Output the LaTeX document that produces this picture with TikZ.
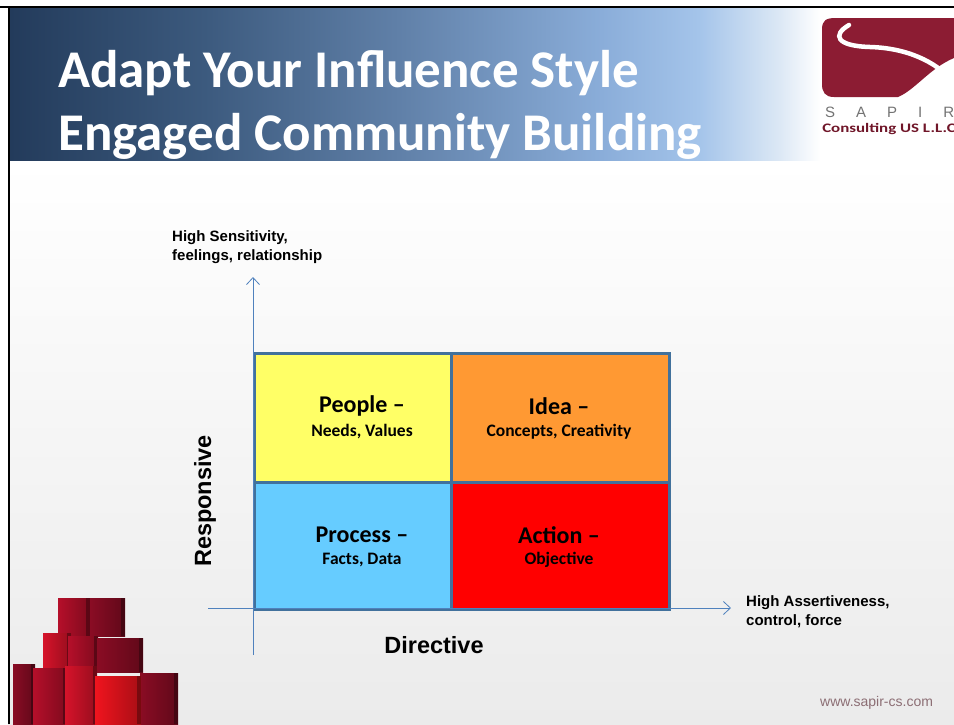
\documentclass[tikz,border=0pt]{standalone}
\usepackage{fontspec}
\setmainfont{Carlito}
\newfontfamily\arialfont{Liberation Sans}
\usetikzlibrary{arrows.meta, positioning, calc}
\definecolor{slnavy}{HTML}{233B5B}
\definecolor{sldeep}{HTML}{3C5A7E}
\definecolor{slsteel}{HTML}{6080A8}
\definecolor{slsky}{HTML}{8AADD9}
\definecolor{slpale}{HTML}{A4C4EA}
\definecolor{slmist}{HTML}{DCE8F5}
\definecolor{slframe}{HTML}{41719C}
\definecolor{slaxis}{HTML}{4F81BD}
\definecolor{slyellow}{HTML}{FFFF66}
\definecolor{slorange}{HTML}{FF9933}
\definecolor{slblue}{HTML}{66CCFF}
\definecolor{slred}{HTML}{FF0000}
\definecolor{sllogo}{HTML}{8C1C33}
\definecolor{slgray}{HTML}{EBEBEB}
\definecolor{slcubeA}{HTML}{B50F2A}
\definecolor{slcubeB}{HTML}{8A0C24}
\definecolor{slcubeC}{HTML}{D6132A}
\definecolor{slcubeD}{HTML}{F0141E}
% the visible band of a horizontal shading runs from 25bp to 75bp
\pgfdeclarehorizontalshading{bannershade}{100bp}{color(0bp)=(slnavy); color(25bp)=(slnavy);
  color(37bp)=(sldeep); color(49bp)=(slsteel); color(61.5bp)=(slsky); color(67.5bp)=(slpale);
  color(72.5bp)=(slmist); color(75bp)=(white); color(100bp)=(white)}

\begin{document}
\begin{tikzpicture}[x=1pt, y=-1pt,
  cell/.style={rectangle, draw=slframe, line width=2.5pt, fill=#1, anchor=north west,
    inner sep=0pt},
  head/.style={font=\fontsize{24}{26}\selectfont\bfseries},
  sub/.style={font=\fontsize{17.5}{20}\selectfont\bfseries},
  note/.style={font=\arialfont\fontsize{15}{19}\selectfont\bfseries, align=left, anchor=north west,
    inner sep=0pt},
  axisname/.style={font=\arialfont\fontsize{23.5}{26}\selectfont\bfseries},
  axis/.style={slaxis, line width=0.8pt, -{Straight Barb[length=7pt, width=13pt]}},
]
  \useasboundingbox (0,0) rectangle (954,724);

  % slide background and frame
  \shade[top color=white, bottom color=slgray] (8,160) rectangle (954,724);
  \fill[white] (820,8) rectangle (954,160);
  \shade[shading=bannershade] (10,8) rectangle (820,160);
  \draw[black, line width=2pt] (0,7) -- (954,7);
  \draw[black, line width=2pt] (9,7) -- (9,724);

  % title
  \node[anchor=base west, inner sep=0pt, text=white, font=\fontsize{53}{60}\selectfont\bfseries]
    (title1) at (58,87) {Adapt Your Influence Style};
  \node[anchor=base west, inner sep=0pt, text=white, font=\fontsize{53}{60}\selectfont\bfseries]
    (title2) at (58,150) {Engaged Community Building};

  % logo
  \fill[sllogo] (822,30) .. controls (822,20) and (826,18) .. (836,18) -- (954,18) -- (954,58)
    .. controls (930,68) and (915,90) .. (898,97) -- (834,97)
    .. controls (825,97) and (822,92) .. (822,84) -- cycle;
  \draw[white, line width=4.5pt, line cap=round] (849,25) .. controls (832,35) and (836,46) .. (870,47)
    .. controls (905,48) and (935,60) .. (956,84);
  \node[anchor=west, inner sep=0pt, text=black!55, font=\arialfont\fontsize{15}{15}\selectfont]
    (sapir) at (825,112) {S\hspace{21pt}A\hspace{21pt}P\hspace{21pt}I\hspace{21pt}R};
  \node[anchor=west, inner sep=0pt, xscale=1.3, text=sllogo!80!black,
    font=\fontsize{13}{14}\selectfont\bfseries] (consult) at (822,129) {Consulting US L.L.C};

  % red cubes, back to front
  \foreach \cx/\cy/\cw/\ch/\cc in {58/598/32/38/slcubeA, 90/598/35/38/slcubeB,
      43/633/28/36/slcubeC, 68/636/30/34/slcubeA, 97/638/46/34/slcubeB,
      13/664/22/60/slcubeB, 33/668/34/56/slcubeA, 65/666/32/58/slcubeC,
      140/673/38/51/slcubeB, 95/676/46/48/slcubeD} {
    \shade[left color=\cc, right color=\cc!70!black] (\cx,\cy) rectangle ++(\cw,\ch);
    \fill[\cc!50!black] (\cx+\cw-4,\cy) rectangle ++(4,\ch);
  }

  % quadrant cells
  \node[cell=slyellow, minimum width=197pt, minimum height=129pt] (people) at (253,352) {};
  \node[cell=slorange, minimum width=218pt, minimum height=129pt] (idea) at (450,352) {};
  \node[cell=slblue, minimum width=197pt, minimum height=127pt] (process) at (253,481) {};
  \node[cell=slred, minimum width=218pt, minimum height=127pt] (action) at (450,481) {};

  \node[head] (peoplehead) at (362,406) {People --};
  \node[sub] (peoplesub) at (362,432) {Needs, Values};
  \node[head] (ideahead) at (559,406) {Idea --};
  \node[sub] (ideasub) at (559,432) {Concepts, Creativity};
  \node[head] (processhead) at (362,535) {Process --};
  \node[sub] (processsub) at (362,560) {Facts, Data};
  \node[head] (actionhead) at (559,535) {Action --};
  \node[sub] (actionsub) at (559,560) {Objective};

  % axes
  \coordinate (yfoot) at (253,655);
  \coordinate (ytip) at (253,277);
  \coordinate (xfoot) at (208,608);
  \coordinate (xtip) at (731,608);
  \draw[axis] (yfoot) -- (ytip);
  \draw[axis] (xfoot) -- (xtip);

  \node[note] (sensitivity) at (172,230) {High Sensitivity,\\feelings, relationship};
  \node[note] (assertive) at (746,595) {High Assertiveness,\\control, force};
  \node[axisname, rotate=90] (responsive) at (205,501) {Responsive};
  \node[axisname] (directive) at (434,645) {Directive};

  \node[anchor=west, inner sep=0pt, text=black!55!sllogo!60, font=\arialfont\fontsize{14}{14}\selectfont]
    (website) at (820,703) {www.sapir-cs.com};
\end{tikzpicture}
\end{document}
